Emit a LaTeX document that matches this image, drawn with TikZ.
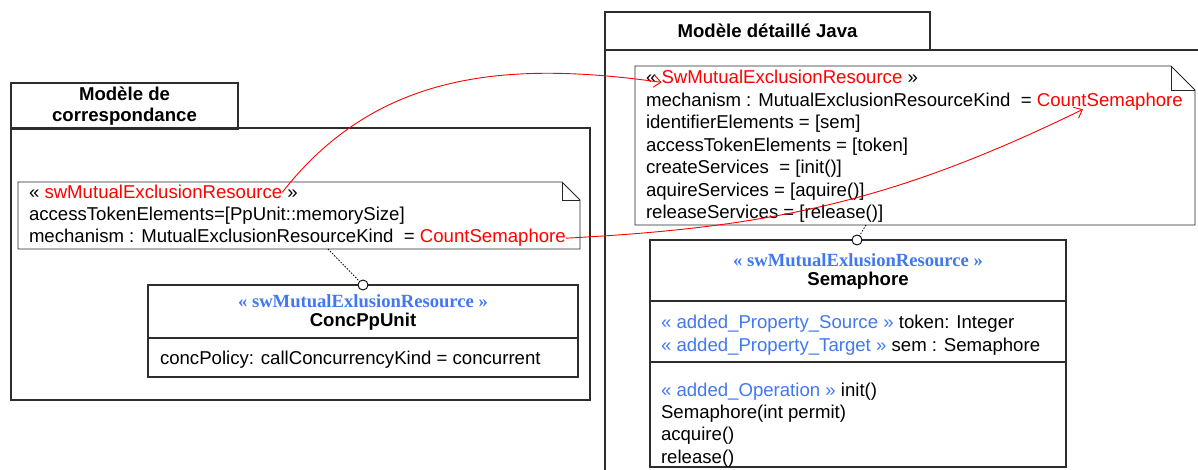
\documentclass[tikz,border=0pt]{standalone}
\usepackage{fontspec}
\setmainfont{Liberation Sans}
\newfontfamily\stfont{Liberation Serif}
\usetikzlibrary{arrows.meta}
\definecolor{stblue}{RGB}{64,120,240}
\definecolor{fgray}{RGB}{45,45,45}
\newcommand{\spc}{\kern0.278em}
\begin{document}
\begin{tikzpicture}[x=1pt,y=-1pt,
  every node/.style={inner sep=0pt, outer sep=0pt},
  txt/.style={font=\fontsize{18.6}{22}\selectfont, anchor=base west},
  redtxt/.style={txt, text=red},
  bluetxt/.style={txt, text=stblue},
  ttl/.style={font=\fontsize{18.6}{20.5}\selectfont\bfseries, align=center},
  tabbox/.style={draw=fgray, line width=1.1pt},
  framel/.style={draw=fgray, line width=1.1pt},
  notel/.style={draw=black!85, line width=0.9pt},
  classbox/.style={draw=fgray, line width=1.1pt},
  stereo/.style={font=\fontsize{18.6}{20}\selectfont\stfont\bfseries, text=stblue},
  cname/.style={font=\fontsize{18.6}{20}\selectfont\bfseries},
  lolly/.style={circle, draw=black, line width=0.9pt, fill=white, minimum size=10pt},
  anchorline/.style={draw=black, line width=0.8pt, dash pattern=on 1.5pt off 1.5pt},
  redarrow/.style={draw=red, line width=0.9pt, -{Straight Barb[length=7pt,width=12pt]}}
]
\useasboundingbox (0,0) rectangle (1198,470);

% ---------- left frame ----------
\node[framel, anchor=north west, minimum width=579pt, minimum height=272pt] (lframe) at (11,128) {};
\node[tabbox, ttl, anchor=north west, minimum width=227pt, minimum height=46pt] (ltab) at (11,83) {Modèle de\\correspondance};

% ---------- right frame ----------
\coordinate (rfTR) at (1200,50);
\coordinate (rfBL) at (605,472);
\draw[framel] (rfTR) -- (rfBL |- rfTR) -- (rfBL);
\node[tabbox, ttl, anchor=north west, minimum width=325pt, minimum height=38pt] (rtab) at (605,12) {Modèle détaillé Java};

% ---------- left note ----------
\node[anchor=north west, minimum width=562pt, minimum height=67pt] (lnote) at (18,182) {};
\draw[notel] (lnote.north west) -- ([xshift=-18pt]lnote.north east) -- ([yshift=-18pt]lnote.north east)
  -- (lnote.south east) -- (lnote.south west) -- cycle;
\draw[notel] ([xshift=-18pt]lnote.north east) |- ([yshift=-18pt]lnote.north east);

\node[txt] (l1a) at (29,199) {«\spc};
\node[redtxt] (l1b) at (l1a.base east) {swMutualExclusionResource};
\node[txt] (l1c) at (l1b.base east) {\spc»};
\node[txt] (l2) at (29,221) {accessTokenElements=[PpUnit::memorySize]};
\node[txt] (l3a) at (29,243) {mechanism : MutualExclusionResourceKind\ \ =\spc};
\node[redtxt] (l3b) at (l3a.base east) {CountSemaphore};

% ---------- ConcPpUnit ----------
\node[classbox, anchor=north west, minimum width=430pt, minimum height=92pt] (cpu) at (148,285) {};
\coordinate (cpuDiv) at (0,338);
\draw[classbox] (cpu.west |- cpuDiv) -- (cpu.east |- cpuDiv);
\node[stereo] (cpuSt) at (363,301) {« swMutualExlusionResource »};
\node[cname] (cpuName) at (363,322) {ConcPpUnit};
\node[txt] (cpuAttr) at (160,364) {concPolicy: callConcurrencyKind = concurrent};
\node[lolly] (lcirc) at (363,285) {};
\draw[anchorline] ([xshift=29pt]lnote.south) -- (lcirc);

% ---------- right note ----------
\node[anchor=north west, minimum width=560pt, minimum height=159pt] (rnote) at (635,66) {};
\draw[notel] (rnote.north west) -- ([xshift=-24pt]rnote.north east) -- ([yshift=-24pt]rnote.north east)
  -- (rnote.south east) -- (rnote.south west) -- cycle;
\draw[notel] ([xshift=-24pt]rnote.north east) |- ([yshift=-24pt]rnote.north east);

\node[txt] (r1a) at (646,84) {«\spc};
\node[redtxt] (r1b) at (r1a.base east) {SwMutualExclusionResource};
\node[txt] (r1c) at (r1b.base east) {\spc»};
\node[txt] (r2a) at (646,106.5) {mechanism : MutualExclusionResourceKind\ \ =\spc};
\node[redtxt] (rcs) at (r2a.base east) {CountSemaphore};
\node[txt] (r3) at (646,129) {identifierElements = [sem]};
\node[txt] (r4) at (646,151.5) {accessTokenElements = [token]};
\node[txt] (r5) at (646,174) {createServices\ \ = [init()]};
\node[txt] (r6) at (646,196.5) {aquireServices = [aquire()]};
\node[txt] (r7) at (646,219) {releaseServices = [release()]};

% ---------- Semaphore ----------
\node[classbox, anchor=north west, minimum width=416pt, minimum height=227pt] (sem) at (650,240) {};
\coordinate (semDivA) at (0,301);
\coordinate (semDivB) at (0,362);
\draw[classbox] (sem.west |- semDivA) -- (sem.east |- semDivA);
\draw[classbox] (sem.west |- semDivB) -- (sem.east |- semDivB);
\node[stereo] (semSt) at (858,260) {« swMutualExlusionResource »};
\node[cname] (semName) at (858,281) {Semaphore};
\node[bluetxt] (sa1) at (661,328) {« added\_Property\_Source »\spc};
\node[txt] (sa1b) at (sa1.base east) {token: Integer};
\node[bluetxt] (sa2) at (661,351) {« added\_Property\_Target »\spc};
\node[txt] (sa2b) at (sa2.base east) {sem : Semaphore};
\node[bluetxt] (so1) at (661,396) {« added\_Operation »\spc};
\node[txt] (so1b) at (so1.base east) {init()};
\node[txt] (so2) at (661,418) {Semaphore(int permit)};
\node[txt] (so3) at (661,440) {acquire()};
\node[txt] (so4) at (661,463) {release()};
\node[lolly] (rcirc) at (857,240) {};
\draw[anchorline] ([xshift=-49pt]rnote.south) -- (rcirc);

% ---------- red mapping arrows ----------
\draw[redarrow] (l1b.east) to[out=52, in=172] ([yshift=-5pt]r1b.west);
\draw[redarrow] (l3b.east) to[out=3, in=206] ([xshift=-27pt,yshift=1pt]rcs.south);
\end{tikzpicture}
\end{document}
